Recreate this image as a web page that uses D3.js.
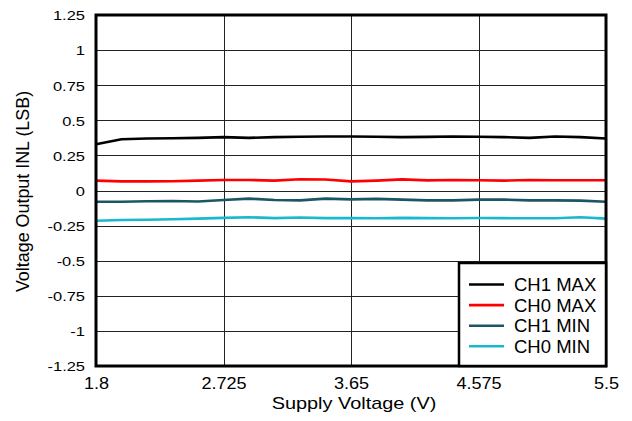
<!DOCTYPE html>
<html><head><meta charset="utf-8">
<script src="https://cdn.jsdelivr.net/npm/d3@7"></script>
<style>body{margin:0;background:#fff}svg{display:block}</style>
</head><body>
<svg id="c" width="632" height="421"></svg>
<script>
const voltages = [1.8,1.985,2.17,2.355,2.54,2.725,2.91,3.095,3.28,3.465,3.65,3.835,4.02,4.205,4.39,4.575,4.76,4.945,5.13,5.315,5.5];
const ch1Max = [0.33,0.365,0.37,0.372,0.375,0.38,0.375,0.38,0.383,0.385,0.385,0.383,0.38,0.382,0.385,0.383,0.38,0.375,0.385,0.38,0.37];
const ch0Max = [0.07,0.065,0.065,0.066,0.07,0.075,0.075,0.07,0.08,0.078,0.065,0.07,0.079,0.072,0.075,0.073,0.07,0.075,0.073,0.073,0.073];
const ch1Min = [-0.08,-0.08,-0.077,-0.075,-0.078,-0.068,-0.058,-0.068,-0.07,-0.058,-0.063,-0.06,-0.065,-0.07,-0.07,-0.065,-0.065,-0.07,-0.07,-0.072,-0.08];
const ch0Min = [-0.215,-0.21,-0.208,-0.205,-0.2,-0.195,-0.19,-0.197,-0.192,-0.197,-0.197,-0.198,-0.195,-0.197,-0.198,-0.196,-0.197,-0.198,-0.198,-0.19,-0.2];
const seriesNames = ["CH1 MAX","CH0 MAX","CH1 MIN","CH0 MIN"];
const seriesColors = ["#000000","#ff0000","#1a5666","#1ab8cc"];
const xTicks = [1.8,2.725,3.65,4.575,5.5];
const yTicks = [1.25,1,0.75,0.5,0.25,0,-0.25,-0.5,-0.75,-1,-1.25];

const series = [ch1Max,ch0Max,ch1Min,ch0Min];
const L=96,R=606,T=15,B=366;
const svg=d3.select("#c");
const x=d3.scaleLinear().domain([1.8,5.5]).range([L,R]);
const y=d3.scaleLinear().domain([-1.25,1.25]).range([B,T]);
const font="Liberation Sans, Arial, sans-serif";

// grid
svg.append("g").selectAll("line").data(yTicks).join("line")
 .attr("x1",L).attr("x2",R).attr("y1",d=>Math.round(y(d))+0.5).attr("y2",d=>Math.round(y(d))+0.5)
 .attr("stroke","#222").attr("stroke-width",1);
svg.append("g").selectAll("line").data(xTicks).join("line")
 .attr("y1",T).attr("y2",B).attr("x1",d=>Math.round(x(d))+0.5).attr("x2",d=>Math.round(x(d))+0.5)
 .attr("stroke","#222").attr("stroke-width",1);

// y axis labels
const ySx=1.22;
const yAxis=d3.axisLeft(y).tickValues(yTicks).tickSize(0).tickPadding(0).tickFormat(d=>String(d));
const gy=svg.append("g").attr("transform",`translate(${L},0)`).call(yAxis);
gy.select(".domain").remove();
gy.selectAll("text").attr("font-family",font).attr("font-size",13.5).attr("fill","#000")
 .attr("x",-11/ySx).attr("dy","0.36em").attr("transform",`scale(${ySx},1)`);
// x axis labels
const xSx=1.13;
const xAxis=d3.axisBottom(x).tickValues(xTicks).tickSize(0).tickPadding(0).tickFormat(d=>String(d));
const gx=svg.append("g").attr("transform",`translate(0,${B})`).call(xAxis);
gx.select(".domain").remove();
gx.selectAll("text").attr("font-family",font).attr("font-size",16).attr("fill","#000")
 .attr("y",23).attr("dy",0).attr("transform",`scale(${xSx},1)`);

// lines
const line=d3.line().x((d,i)=>x(voltages[i])).y(d=>y(d));
svg.append("g").selectAll("path").data(series).join("path")
 .attr("d",d=>line(d)).attr("fill","none").attr("stroke",(d,i)=>seriesColors[i])
 .attr("stroke-width",2.6).attr("stroke-linejoin","round");

// border
svg.append("rect").attr("x",L).attr("y",T).attr("width",R-L).attr("height",B-T)
 .attr("fill","none").attr("stroke","#000").attr("stroke-width",3);

// titles
svg.append("text").attr("transform",`translate(354,408.5) scale(1.17,1)`).attr("text-anchor","middle")
 .attr("font-family",font).attr("font-size",17).text("Supply Voltage (V)");
svg.append("text").attr("transform",`translate(28.5,191.5) rotate(-90)`).attr("text-anchor","middle")
 .attr("font-family",font).attr("font-size",17.9).text("Voltage Output INL (LSB)");

// legend
const lg=svg.append("g");
lg.append("rect").attr("x",459).attr("y",263).attr("width",R-459).attr("height",B-263)
 .attr("fill","#fff").attr("stroke","#000").attr("stroke-width",2.5);
const items=lg.selectAll("g.it").data(seriesNames).join("g").attr("class","it")
 .attr("transform",(d,i)=>`translate(0,${284.5+i*20.6})`);
items.append("line").attr("x1",469).attr("x2",504).attr("y1",0).attr("y2",0)
 .attr("stroke",(d,i)=>seriesColors[i]).attr("stroke-width",2.6);
items.append("text").attr("x",514).attr("y",6.6).attr("font-family",font).attr("font-size",18.5).text(d=>d);
</script>
</body></html>
